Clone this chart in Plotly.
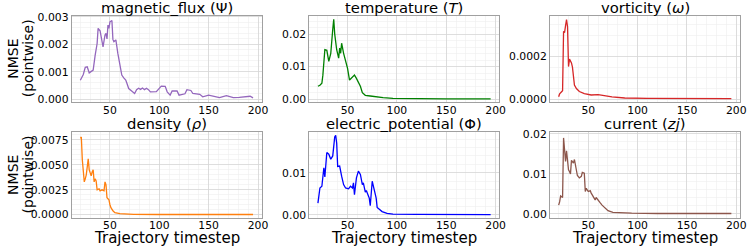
import plotly.graph_objects as go

# ---------------- data ----------------
mag_t = [20, 23, 25, 27, 29, 31, 33, 35, 36, 37, 38, 40, 41, 43, 45, 46, 47, 48, 49, 50, 52, 53, 54, 56, 58, 60, 62, 64, 66, 67, 69, 72, 75, 77, 79, 81, 83, 85, 87, 89, 91, 97, 101, 102, 106, 108, 111, 113, 118, 120, 126, 128, 132, 134, 141, 144, 150, 155, 161, 168, 175, 181, 188, 192, 195]
mag_v = [0.00069, 0.00090, 0.00116, 0.00118, 0.00096, 0.00100, 0.00106, 0.00160, 0.00185, 0.00203, 0.00258, 0.00249, 0.00230, 0.00191, 0.00234, 0.00240, 0.00220, 0.00270, 0.00258, 0.00282, 0.00287, 0.00218, 0.00210, 0.00216, 0.00167, 0.00130, 0.00088, 0.00078, 0.00070, 0.00060, 0.00039, 0.00030, 0.00021, 0.00035, 0.00040, 0.00036, 0.00041, 0.00035, 0.00040, 0.00035, 0.00027, 0.00028, 0.00045, 0.00048, 0.00047, 0.00027, 0.00015, 0.00030, 0.00030, 0.00015, 0.00020, 0.00035, 0.00032, 0.00021, 0.00018, 0.00009, 0.00015, 0.00012, 0.00006, 0.00013, 0.00006, 0.00007, 0.00010, 0.00011, 0.00005]

temp_t = [20, 22, 24, 25, 27, 29, 31, 33, 35, 36, 37, 38, 39, 41, 42, 43, 44, 46, 48, 50, 52, 55, 57, 59, 61, 63, 65, 68, 73, 80, 86, 96, 113, 150, 195]
temp_v = [0.0040, 0.0043, 0.0049, 0.0074, 0.0152, 0.0150, 0.0116, 0.0141, 0.0214, 0.0245, 0.0200, 0.0165, 0.0152, 0.0126, 0.0157, 0.0141, 0.0172, 0.0141, 0.0116, 0.0095, 0.0059, 0.0067, 0.0074, 0.0064, 0.0051, 0.0040, 0.0020, 0.0012, 0.0010, 0.0007, 0.0005, 0.0003, 0.0002, 0.00012, 0.0001]

vort_t = [20, 21, 23, 24, 25, 26, 27, 28, 29, 30, 31, 32, 33, 34, 36, 38, 41, 46, 53, 60, 67, 74, 87, 110, 195]
vort_v = [0.000012, 0.000025, 0.000035, 0.000040, 0.000318, 0.000312, 0.000345, 0.000373, 0.000340, 0.000153, 0.000188, 0.000180, 0.000170, 0.000150, 0.000066, 0.000050, 0.000036, 0.000026, 0.000020, 0.000022, 0.000016, 0.000011, 0.000006, 0.000004, 0.000003]

dens_t = [20, 21, 22, 23, 24, 25, 26, 27, 28, 29, 31, 32, 33, 34, 35, 36, 37, 39, 40, 42, 44, 45, 46, 47, 48, 49, 50, 51, 53, 55, 60, 74, 100, 195]
dens_v = [0.00767, 0.0078, 0.0055, 0.0040, 0.0033, 0.0036, 0.0040, 0.0048, 0.0056, 0.0045, 0.0039, 0.0043, 0.0045, 0.0033, 0.0036, 0.0034, 0.0025, 0.0026, 0.0024, 0.0025, 0.0024, 0.0033, 0.0030, 0.0017, 0.0016, 0.0015, 0.0010, 0.0007, 0.0004, 0.0002, 0.0001, 0.00004, 0.00002, 0.00002]

epot_t = [20, 22, 24, 25, 26, 27, 28, 29, 31, 33, 35, 36, 37, 38, 39, 40, 42, 44, 46, 48, 51, 53, 55, 56, 57, 59, 61, 63, 65, 66, 68, 69, 72, 73, 75, 77, 79, 80, 83, 85, 90, 96, 120, 195]
epot_v = [0.0028, 0.0064, 0.0068, 0.0086, 0.0112, 0.0090, 0.0120, 0.0148, 0.0144, 0.0132, 0.0140, 0.0175, 0.0185, 0.0189, 0.0170, 0.0115, 0.0116, 0.0092, 0.0072, 0.0064, 0.0062, 0.0068, 0.0064, 0.0076, 0.0048, 0.0088, 0.0104, 0.0096, 0.0072, 0.0076, 0.0054, 0.0058, 0.0040, 0.0022, 0.0080, 0.0060, 0.0040, 0.0018, 0.0012, 0.0008, 0.0004, 0.0002, 0.00012, 0.0001]

curr_t = [20, 21, 22, 23, 24, 25, 26, 27, 28, 29, 30, 31, 32, 33, 35, 36, 38, 39, 41, 43, 44, 46, 47, 48, 50, 52, 53, 55, 57, 58, 60, 62, 64, 67, 70, 75, 84, 94, 120, 195]
curr_v = [0.0022, 0.0030, 0.0045, 0.0043, 0.0041, 0.0190, 0.0168, 0.0131, 0.0158, 0.0127, 0.0110, 0.0106, 0.0100, 0.0134, 0.0127, 0.0136, 0.0112, 0.0096, 0.0090, 0.0094, 0.0104, 0.0102, 0.0056, 0.0064, 0.0056, 0.0058, 0.0052, 0.0043, 0.0035, 0.0041, 0.0033, 0.0028, 0.0022, 0.0014, 0.0008, 0.0004, 0.0003, 0.0002, 0.0001, 0.0001]

titles = ["magnetic_flux (Ψ)", "temperature (<i>T</i>)", "vorticity (<i>ω</i>)",
          "density (<i>ρ</i>)", "electric_potential (Φ)", "current (<i>zj</i>)"]
x_ticks = [50, 100, 150, 200]
x_label = "Trajectory timestep"
y_label_lines = ["NMSE", "(pointwise)"]

# ---------------- styling / layout ----------------
W, H = 747, 247
FONT = "DejaVu Sans"
TICK = 10.8
colors = ["#9467bd", "#008000", "#d62728", "#ff7f0e", "#0000ff", "#8c564b"]
series = [(mag_t, mag_v), (temp_t, temp_v), (vort_t, vort_v),
          (dens_t, dens_v), (epot_t, epot_v), (curr_t, curr_v)]

# pixel frames (left, right, top, bottom)
cols_px = [(71.7, 261.7), (309.3, 499.3), (550.0, 740.0)]
rows_px = [(15.5, 102.0), (132.3, 217.5)]

yranges = [[-0.0001, 0.00305], [-0.00084, 0.0257], [-0.0000128, 0.000392],
           [-0.00028, 0.00827], [-0.0006, 0.0196], [-0.0009, 0.0204]]
ydticks = [0.001, 0.01, 0.0002, 0.0025, 0.01, 0.01]
yminor = [0.0002, 0.002, 0.00005, 0.0005, 0.002, 0.002]
yfmt = [".3f", ".2f", ".4f", ".4f", ".2f", ".2f"]

fig = go.Figure()
annotations = []
layout = dict(width=W, height=H, margin=dict(l=0, r=0, t=0, b=0, autoexpand=False),
              paper_bgcolor="white", plot_bgcolor="white", showlegend=False,
              font=dict(family=FONT, size=TICK, color="black"))

def py(px):
    return (H - px) / H

for i, ((t, v), c) in enumerate(zip(series, colors)):
    r, ci = divmod(i, 3)
    n = "" if i == 0 else str(i + 1)
    (xl, xr), (yt, yb) = cols_px[ci], rows_px[r]
    xd = [xl / W, xr / W]
    yd = [py(yb), py(yt)]
    fig.add_trace(go.Scatter(x=t, y=v, mode="lines", line=dict(color=c, width=1.3),
                             xaxis="x" + n, yaxis="y" + n, hoverinfo="skip"))
    layout["xaxis" + n] = dict(domain=xd, anchor="y" + n, range=[11.25, 203.75],
                               automargin=False,
                               tickvals=x_ticks, showline=True, mirror=True,
                               linecolor="#a0a0a0", linewidth=1, zeroline=False,
                               showgrid=True, gridcolor="#d6d6d6", gridwidth=0.8,
                               ticks="", ticklabelstandoff=-2,
                               tickfont=dict(size=TICK),
                               minor=dict(dtick=10, tick0=0, showgrid=True,
                                          gridcolor="#eeeeee", gridwidth=0.6, ticks=""))
    layout["yaxis" + n] = dict(domain=yd, anchor="x" + n, range=yranges[i],
                               automargin=False,
                               tick0=0, dtick=ydticks[i], tickformat=yfmt[i],
                               showline=True, mirror=True, linecolor="#a0a0a0",
                               linewidth=1, zeroline=False, showgrid=True,
                               gridcolor="#d6d6d6", gridwidth=0.8, ticks="",
                               tickfont=dict(size=TICK),
                               minor=dict(dtick=yminor[i], tick0=0, showgrid=True,
                                          gridcolor="#eeeeee", gridwidth=0.6, ticks=""))
    annotations.append(dict(text=titles[i], xref="paper", yref="paper",
                            x=(xd[0] + xd[1]) / 2, y=py(yt - 8.5),
                            xanchor="center", yanchor="middle", showarrow=False,
                            font=dict(family=FONT, size=14.8)))
    if r == 1:
        annotations.append(dict(text=x_label, xref="paper", yref="paper",
                                x=(xd[0] + xd[1]) / 2, y=py(238.0),
                                xanchor="center", yanchor="middle", showarrow=False,
                                font=dict(family=FONT, size=15)))
    if ci == 0:
        for txt, xc in zip(y_label_lines, [13.0, 27.5]):
            annotations.append(dict(text=txt, xref="paper", yref="paper",
                                    x=xc / W, y=(yd[0] + yd[1]) / 2,
                                    xanchor="center", yanchor="middle", showarrow=False,
                                    textangle=-90,
                                    font=dict(family=FONT, size=14)))

layout["annotations"] = annotations
fig.update_layout(**layout)
fig.write_html("out.html", config={"displayModeBar": False, "staticPlot": True},
               post_script="document.body.style.margin='0px';document.body.style.overflow='hidden';")
